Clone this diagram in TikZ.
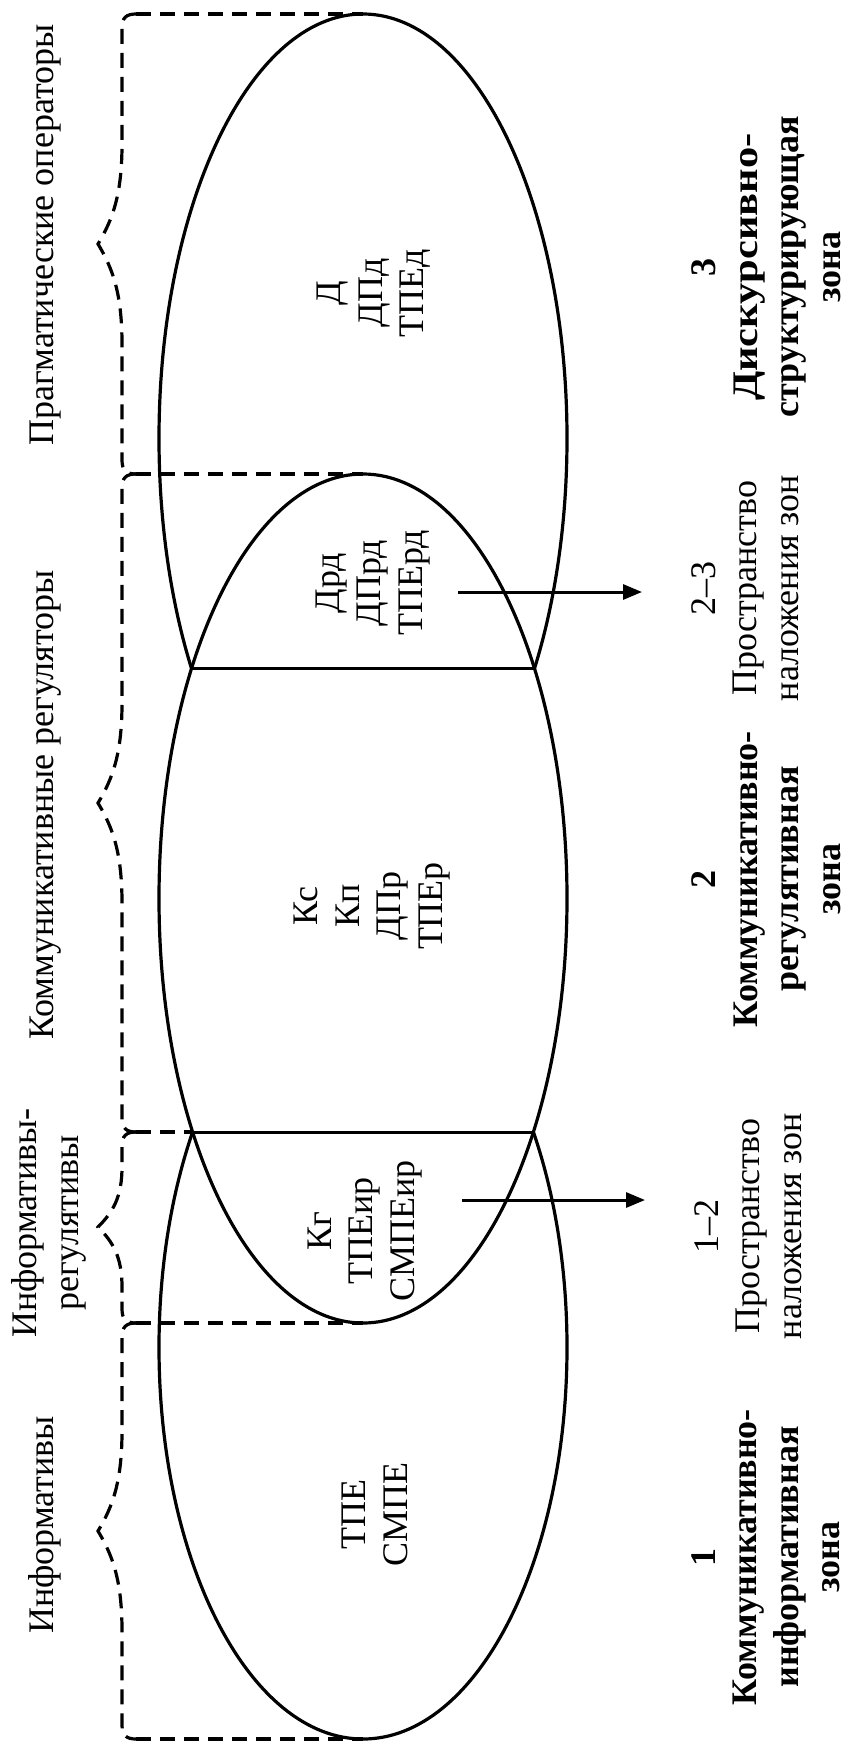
\documentclass[tikz,border=0pt]{standalone}
\usepackage{fontspec}
\usepackage{graphicx}
\setmainfont{Liberation Serif}
\usetikzlibrary{arrows.meta}
\newcommand{\zbrace}[4]{% #1 top y, #2 bottom y, #3 tip y, #4 approach length
  \draw[bracestyle] (136,#1) .. controls (126,#1) and (122,{#1+4}) .. (122,{#1+14})
    -- (122,{#3-#4}) .. controls (122,{#3-0.5*#4}) and (113,{#3-0.25*#4}) .. (98,#3)
    .. controls (113,{#3+0.25*#4}) and (122,{#3+0.5*#4}) .. (122,{#3+#4})
    -- (122,{#2-14}) .. controls (122,{#2-4}) and (126,#2) .. (136,#2);}
\begin{document}
\begin{tikzpicture}[x=1pt,y=-1pt,
  lbl/.style={rotate=90, align=center, inner sep=0pt, font=\fontsize{36}{41.5}\selectfont},
  zone/.style={rotate=90, align=center, inner sep=0pt, font=\fontsize{36}{41.5}\selectfont\bfseries},
  oval/.style={line width=3.2pt},
  chordline/.style={line width=3pt},
  bracestyle/.style={line width=3.2pt, dash pattern=on 15pt off 9pt},
  dashline/.style={line width=3.2pt, dash pattern=on 15pt off 9pt},
  arr/.style={line width=3pt, -{Triangle[length=19pt,width=15pt]}}
]
\useasboundingbox (0,0) rectangle (851,1744);

% ellipses
\begin{scope}
  \clip (0,0) rectangle (851,668.5);
  \draw[oval] (363,438.5) ellipse [x radius=204pt, y radius=424.5pt];
\end{scope}
\draw[oval] (363,898.5) ellipse [x radius=204pt, y radius=424.5pt];
\begin{scope}
  \clip (0,1132) rectangle (851,1744);
  \draw[oval] (363,1347.4) ellipse [x radius=204pt, y radius=391.6pt];
\end{scope}

% key points
\coordinate (e3top) at (363,14);
\coordinate (e2top) at (363,474);
\coordinate (e2bot) at (363,1323);
\coordinate (e1bot) at (363,1739);
\coordinate (c1l) at (191.5,668.5);
\coordinate (c1r) at (534.5,668.5);
\coordinate (c2l) at (192.6,1132);
\coordinate (c2r) at (533.4,1132);
\coordinate (j0) at (136,14);
\coordinate (j1) at (136,474);
\coordinate (j2) at (136,1132);
\coordinate (j3) at (136,1323);
\coordinate (j4) at (136,1739);

% chords
\draw[chordline] (c1l) -- (c1r);
\draw[chordline] (c2l) -- (c2r);

% dashed horizontals
\draw[dashline] (j0) -- (e3top);
\draw[dashline] (j1) -- (e2top);
\draw[dashline] (j2) -- (c2l);
\draw[dashline] (j3) -- (e2bot);
\draw[dashline] (j4) -- (e1bot);

% braces
\zbrace{14}{474}{244}{100}
\zbrace{474}{1132}{803}{100}
\zbrace{1132}{1323}{1227}{60}
\zbrace{1323}{1739}{1531}{100}

% arrows
\coordinate (a1s) at (458,592);
\coordinate (a1e) at (642,592);
\coordinate (a2s) at (462,1200);
\coordinate (a2e) at (645,1200);
\draw[arr] (a1s) -- (a1e);
\draw[arr] (a2s) -- (a2e);

% left labels
\node[lbl] (pragm) at (46,235) {Прагматические операторы};
\node[lbl] (kommreg) at (46,805) {Коммуникативные регуляторы};
\node[lbl] (infreg) at (49,1223) {Информативы-\\регулятивы};
\node[lbl] (inf) at (45,1525) {Информативы};

% inner labels
\node[lbl] (t3) at (374,293) {Д\\ДПд\\ТПЕд};
\node[lbl] (t23) at (373,583) {Дрд\\ДПрд\\ТПЕрд};
\node[lbl] (t2) at (372,906) {Кс\\Кп\\ДПр\\ТПЕр};
\node[lbl] (t12) at (365,1231) {Кг\\ТПЕир\\СМПЕир};
\node[lbl] (t1) at (375,1514) {ТПЕ\\СМПЕ};

% right labels
\node[zone] (z3) at (766,267) {3\\\scalebox{1.18}[1]{Дискурсивно-}\\структурирующая\\зона};
\node[lbl] (p23) at (745,588) {2–3\\Пространство\\наложения зон};
\node[zone] (z2) at (766,879) {2\\Коммуникативно-\\регулятивная\\зона};
\node[lbl] (p12) at (748,1226) {1–2\\Пространство\\наложения зон};
\node[zone] (z1) at (766,1557) {1\\Коммуникативно-\\информативная\\зона};
\end{tikzpicture}
\end{document}
